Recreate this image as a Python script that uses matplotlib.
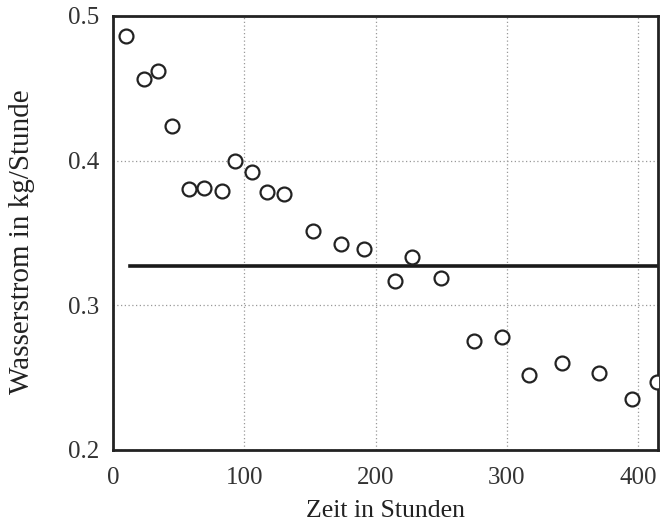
import numpy as np
import matplotlib.pyplot as plt

plt.rcParams['font.family'] = 'Liberation Serif'

# Messpunkte: Zeit in Stunden, Wasserstrom in kg/Stunde
zeit = [10, 24, 34, 45, 58, 69, 83, 93, 106, 117, 130, 152, 174, 191,
        215, 228, 250, 275, 296, 317, 342, 370, 395, 414]
wasserstrom = [0.486, 0.456, 0.462, 0.424, 0.380, 0.381, 0.379, 0.400,
               0.392, 0.378, 0.377, 0.351, 0.342, 0.339, 0.317, 0.333,
               0.319, 0.275, 0.278, 0.252, 0.260, 0.253, 0.235, 0.247]

# Mittelwert-Linie
mittel_x = [13, 415]
mittel_y = [0.327, 0.327]

xticks = [0, 100, 200, 300, 400]
yticks = [0.2, 0.3, 0.4, 0.5]

fig = plt.figure(figsize=(6.64, 5.28), dpi=100)
ax = fig.add_axes([0.170, 0.148, 0.821, 0.822])

ax.plot(zeit, wasserstrom, 'o', mfc='white', mec='#222222', mew=1.6,
        ms=10, zorder=3)
ax.plot(mittel_x, mittel_y, '-', color='#1a1a1a', lw=2.6, zorder=2)

ax.set_xlim(0, 415)
ax.set_ylim(0.2, 0.5)
ax.set_xticks(xticks)
ax.set_yticks(yticks)
ax.set_xticklabels([str(t) for t in xticks])
ax.set_yticklabels(['0.2', '0.3', '0.4', '0.5'])
ax.tick_params(length=0, labelsize=18, colors='#333333')
ax.tick_params(axis='x', pad=12)
ax.tick_params(axis='y', pad=10)
ax.grid(True, linestyle=(0, (1, 2)), color='#999999', linewidth=0.9)

for s in ax.spines.values():
    s.set_linewidth(2)
    s.set_color('#222222')

ax.set_xlabel('Zeit in Stunden', fontsize=18.5, color='#222222', labelpad=8)
ax.set_ylabel('Wasserstrom in kg/Stunde', fontsize=21, color='#222222')
ax.yaxis.set_label_coords(-0.142, 0.48)

plt.savefig('out.png', dpi=100)
plt.close()
